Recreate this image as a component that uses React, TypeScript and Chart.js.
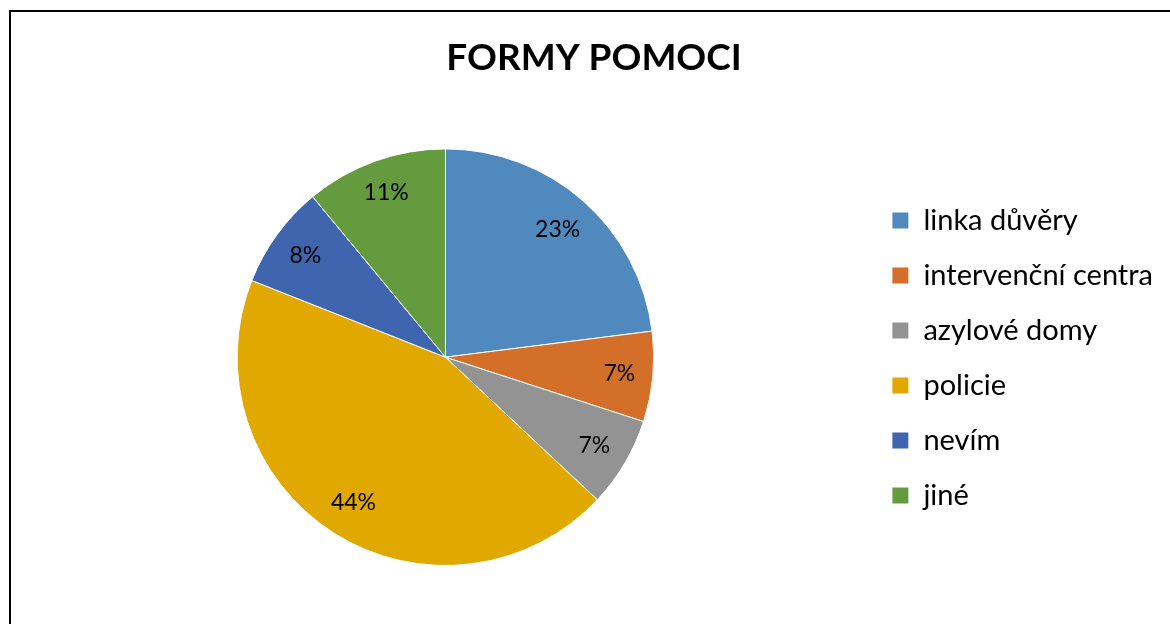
import React, { useEffect, useRef } from "react";
import { Chart, registerables } from "chart.js";

Chart.register(...registerables);

const TITLE = "FORMY POMOCI";
const categories = [
  "linka důvěry",
  "intervenční centra",
  "azylové domy",
  "policie",
  "nevím",
  "jiné",
];
const percentValues = [23, 7, 7, 44, 8, 11];
const sliceColors = ["#4F89BD", "#D46F2A", "#939393", "#E1A900", "#3F65AE", "#659B3F"];

const FONT = "Lato, 'Open Sans', sans-serif";

const pieLabels = {
  id: "pieLabels",
  afterDatasetsDraw(chart: any) {
    const ctx = chart.ctx;
    const meta = chart.getDatasetMeta(0);
    const data = chart.data.datasets[0].data as number[];
    ctx.save();
    ctx.font = `23px ${FONT}`;
    ctx.fillStyle = "#000";
    ctx.textAlign = "center";
    ctx.textBaseline = "middle";
    meta.data.forEach((arc: any, i: number) => {
      const { x, y, startAngle, endAngle, outerRadius } = arc.getProps(
        ["x", "y", "startAngle", "endAngle", "outerRadius"],
        true
      );
      const text = `${data[i]}%`;
      const w = ctx.measureText(text).width;
      const h = 18;
      const mid = (startAngle + endAngle) / 2;
      const c = Math.cos(mid);
      const s = Math.sin(mid);
      const extent = (w / 2) * Math.abs(c) + (h / 2) * Math.abs(s);
      const r = outerRadius - extent - 17;
      ctx.fillText(text, x + r * c, y + r * s);
    });
    ctx.restore();
  },
};

export default function App() {
  const ref = useRef<HTMLCanvasElement>(null);
  useEffect(() => {
    if (!ref.current) return;
    const chart = new Chart(ref.current, {
      type: "pie",
      data: {
        labels: categories,
        datasets: [
          {
            data: percentValues,
            backgroundColor: sliceColors,
            borderColor: "#ffffff",
            borderWidth: 1,
          },
        ],
      },
      options: {
        animation: false,
        responsive: false,
        maintainAspectRatio: false,
        layout: { padding: { left: 25, right: 7, top: 0, bottom: 58 } },
        plugins: {
          title: {
            display: true,
            text: TITLE,
            color: "#000",
            font: { family: FONT, size: 37, weight: "bold" },
            padding: { top: 36, bottom: 68 },
          },
          legend: {
            position: "right",
            title: {
              display: true,
              text: " ",
              font: { family: FONT, size: 10 },
              padding: { top: 138, bottom: 0 },
            },
            labels: {
              color: "#000",
              font: { family: FONT, size: 29 },
              boxWidth: 17,
              boxHeight: 17,
              padding: 26,
            },
          },
          tooltip: { enabled: false },
        },
      },
      plugins: [pieLabels],
    });
    return () => chart.destroy();
  }, []);

  return (
    <div
      style={{
        position: "fixed",
        left: 0,
        top: 0,
        width: 1170,
        height: 624,
        overflow: "hidden",
        background: "#fff",
      }}
    >
      <canvas ref={ref} width={1170} height={624} style={{ position: "absolute", left: 0, top: 0 }} />
      <div
        style={{
          position: "absolute",
          left: 9,
          top: 10,
          width: 2000,
          height: 2000,
          borderLeft: "2px solid #000",
          borderTop: "2px solid #000",
          pointerEvents: "none",
        }}
      />
    </div>
  );
}
